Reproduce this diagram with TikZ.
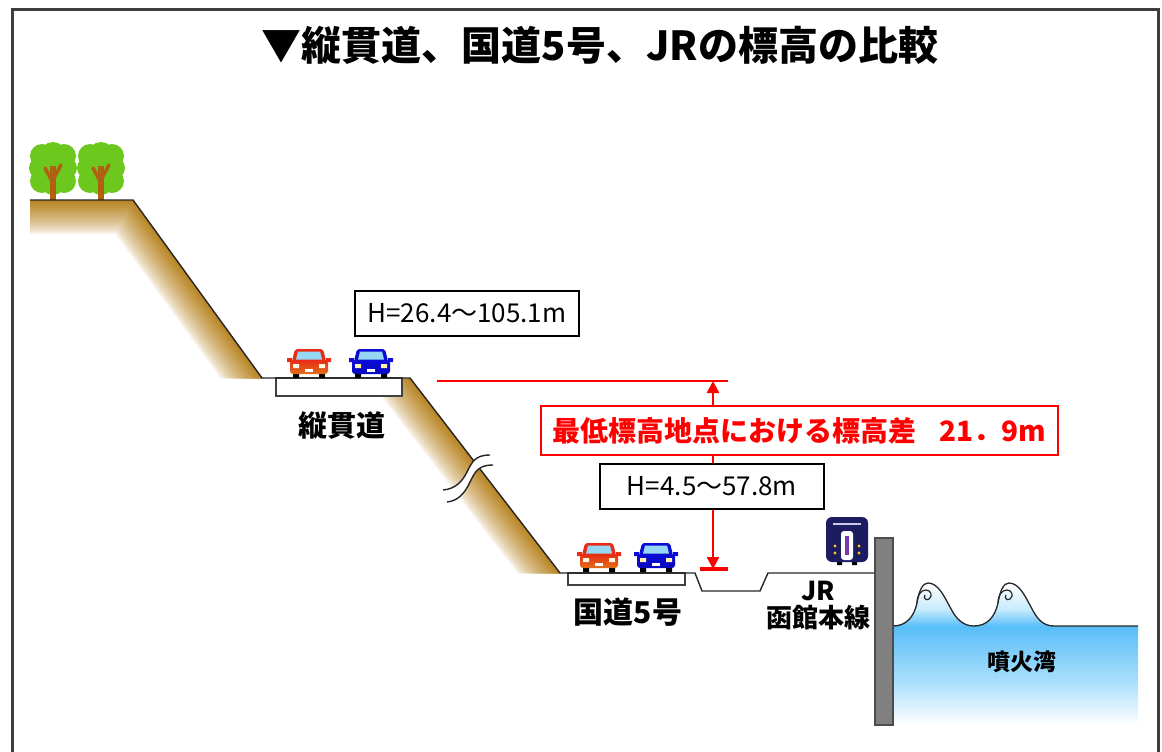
\documentclass[tikz,border=0pt]{standalone}
\usepackage{fontspec}
\setmainfont{Noto Sans CJK JP}
\usetikzlibrary{arrows.meta}

\definecolor{framegray}{RGB}{62,62,62}
\definecolor{earth}{RGB}{184,132,34}
\definecolor{leaf}{RGB}{108,200,28}
\definecolor{bark}{RGB}{176,96,16}
\definecolor{carred}{RGB}{232,44,22}
\definecolor{carorange}{RGB}{224,110,24}
\definecolor{carblue}{RGB}{12,12,215}
\definecolor{carblue2}{RGB}{8,8,190}
\definecolor{glass}{RGB}{150,215,245}
\definecolor{lampwhite}{RGB}{255,250,225}
\definecolor{lampyellow}{RGB}{255,245,170}
\definecolor{trainnavy}{RGB}{28,28,96}
\definecolor{trainpurple}{RGB}{120,60,170}
\definecolor{trainband}{RGB}{205,200,235}
\definecolor{lamp}{RGB}{250,200,20}
\definecolor{wallgray}{RGB}{128,128,128}
\definecolor{seablue}{RGB}{88,190,248}
\definecolor{seamid}{RGB}{175,225,252}
\definecolor{seapale}{RGB}{200,235,253}
\definecolor{dimred}{RGB}{255,0,0}

% sea body: pale wave crests, strong blue at the waterline, fading out at the bottom
\pgfdeclareverticalshading{seashade}{100bp}{color(0bp)=(white); color(26bp)=(white); color(40bp)=(seamid); color(60bp)=(seablue); color(66bp)=(seapale); color(75bp)=(white); color(100bp)=(white)}

\tikzset{
  groundline/.style={draw=black!85, line width=1.4},
  roadbox/.style={draw=black!75, line width=1.5, fill=white},
  dimline/.style={draw=dimred, line width=2.5},
  hbox/.style={draw=black, line width=2.5, fill=white, minimum width=224, minimum height=45, inner sep=0, font=\fontsize{26}{28}\selectfont},
  redbox/.style={draw=dimred, line width=2.5, fill=white, minimum width=517, minimum height=49, inner sep=0, text=dimred, font=\fontsize{28}{30}\selectfont\bfseries},
  lbl/.style={inner sep=0, align=center},
  pics/tree/.style={code={
    \fill[leaf] (0,-45) circle (13) (-11,-44) circle (12) (11,-44) circle (12)
                (-13,-32) circle (11) (13,-32) circle (11)
                (-11,-19) circle (12) (11,-19) circle (12) (0,-17) circle (12) (0,-31) circle (14);
    \draw[bark, line width=6] (0,0) -- (0,-34);
    \draw[bark, line width=3.5, line cap=round] (0,-17) -- (-8,-32) (0,-20) -- (8,-35);
  }},
  pics/car/.style n args={3}{code={
    \fill[black] (-16,-7) rectangle (-10,0) (10,-7) rectangle (16,0);
    \fill[#1] (-22,-20) rectangle (-17,-16) (17,-20) rectangle (22,-16);
    \fill[#1, rounded corners=2] (-14,-29) -- (14,-29) -- (17,-17) -- (-17,-17) -- cycle;
    \shade[top color=#1, bottom color=#2, rounded corners=3] (-19,-18) rectangle (19,-4);
    \fill[glass] (-11,-26.5) -- (11,-26.5) -- (13,-18.5) -- (-13,-18.5) -- cycle;
    \fill[#3] (-16,-14) rectangle (-10,-10) (10,-14) rectangle (16,-10);
    \fill[white] (-4,-9) rectangle (4,-6);
  }},
  pics/train/.style={code={
    \fill[black] (-10,-5) rectangle (-5,0) (5,-5) rectangle (10,0);
    \fill[trainnavy, rounded corners=6] (-21,-48) rectangle (21,-3);
    \draw[trainband, line width=2] (-14,-41) -- (14,-41);
    \fill[white, rounded corners=3] (-6,-34) rectangle (6,-5);
    \fill[trainpurple] (-1.6,-29) rectangle (1.6,-10);
    \fill[lamp] (-12,-19) circle (1.6) (-12,-12) circle (1.6) (12,-19) circle (1.6) (12,-12) circle (1.6);
  }}
}

\begin{document}
\begin{tikzpicture}[x=1pt, y=-1pt]
\useasboundingbox (0,0) rectangle (1162,752);

% frame open at the bottom
\draw[framegray, line width=3] (12.5,752) -- (12.5,9.5) -- (1158.5,9.5) -- (1158.5,752);

\node[lbl, font=\fontsize{40}{44}\selectfont\bfseries] (title) at (600,45) {▼縦貫道、国道5号、JRの標高の比較};

% earth band along the upper slope
\begin{scope}
  \clip (30,200) -- (133,200) -- (262,378) -- (30,378) -- cycle;
  \foreach \i in {0,...,34}{
    \pgfmathsetmacro\w{70-2*\i}
    \pgfmathtruncatemacro\p{100*(\i/34)^0.7}
    \draw[line width=\w pt, color=earth!\p!white, line join=round] (0,200) -- (133,200) -- (290,416);
  }
\end{scope}

% earth band along the lower slope
\begin{scope}
  \clip (410,378) -- (560,573) -- (380,573) -- (380,378) -- cycle;
  \foreach \i in {0,...,34}{
    \pgfmathsetmacro\w{70-2*\i}
    \pgfmathtruncatemacro\p{100*(\i/34)^0.7}
    \draw[line width=\w pt, color=earth!\p!white] (398,362) -- (575,592);
  }
\end{scope}

% trees on the hilltop
\pic at (53,200) {tree};
\pic at (101,200) {tree};

% road decks
\draw[roadbox] (276,378) rectangle (402,396);
\draw[roadbox] (568,573) rectangle (685,585);

% ground profile
\draw[groundline] (30,200) -- (133,200) -- (262,378) -- (410,378) -- (560,573)
  -- (695,573) -- (702,591) -- (760,591) -- (768,573) -- (875,573);

% break mark on the lower slope
\fill[white] (490,455) .. controls (475,455) and (472,462) .. (467,472)
  .. controls (462,482) and (455,489) .. (443,490) -- (447,502)
  .. controls (458,501) and (465,493) .. (470,482)
  .. controls (475,472) and (478,465) .. (493,465) -- cycle;
\draw[black!85, line width=1.4] (490,455) .. controls (475,455) and (472,462) .. (467,472)
  .. controls (462,482) and (455,489) .. (443,490);
\draw[black!85, line width=1.4] (493,465) .. controls (478,465) and (475,472) .. (470,482)
  .. controls (465,493) and (458,501) .. (447,502);

% cars
\pic at (309,378) {car={carred}{carorange}{lampwhite}};
\pic at (371,378) {car={carblue}{carblue2}{lampyellow}};
\pic at (599,572) {car={carred}{carorange}{lampwhite}};
\pic at (656,572) {car={carblue}{carblue2}{lampyellow}};

% train
\pic at (847,565) {train};

% sea with breaking waves
\shade[shading=seashade] (893,626) .. controls (906,626) and (914,617) .. (917,603)
  .. controls (919,590) and (923,583) .. (928,583)
  .. controls (938,583) and (944,596) .. (950,607)
  .. controls (956,619) and (963,626) .. (974,626)
  .. controls (987,626) and (995,617) .. (998,603)
  .. controls (1000,590) and (1004,583) .. (1009,583)
  .. controls (1019,583) and (1025,596) .. (1031,607)
  .. controls (1037,619) and (1043,626) .. (1054,626)
  -- (1138,626) -- (1138,728) -- (893,728) -- cycle;
\draw[black!85, line width=1.3] (893,626) .. controls (906,626) and (914,617) .. (917,603)
  .. controls (919,590) and (923,583) .. (928,583)
  .. controls (938,583) and (944,596) .. (950,607)
  .. controls (956,619) and (963,626) .. (974,626)
  .. controls (987,626) and (995,617) .. (998,603)
  .. controls (1000,590) and (1004,583) .. (1009,583)
  .. controls (1019,583) and (1025,596) .. (1031,607)
  .. controls (1037,619) and (1043,626) .. (1054,626)
  -- (1138,626);
\draw[black!85, line width=1.2] (917,603) .. controls (917,595) and (921,590) .. (926,590)
  .. controls (931,590) and (933,596) .. (929,599) .. controls (926,601) and (923,598) .. (925,595);
\draw[black!85, line width=1.2] (998,603) .. controls (998,595) and (1002,590) .. (1007,590)
  .. controls (1012,590) and (1014,596) .. (1010,599) .. controls (1007,601) and (1004,598) .. (1006,595);

% sea wall
\draw[fill=wallgray, draw=black!70, line width=1.2] (875,538) rectangle (893,725);

% elevation difference
\coordinate (reftopL) at (437,381);
\coordinate (reftopR) at (728,381);
\coordinate (refbotL) at (700,569);
\coordinate (refbotR) at (728,569);
\coordinate (dimtop) at (713,381);
\coordinate (dimbot) at (713,569);
\draw[dimline] (reftopL) -- (reftopR);
\draw[dimline, line width=4] (refbotL) -- (refbotR);
\draw[dimline, {Triangle[length=12pt,width=12pt]}-{Triangle[length=12pt,width=12pt]}] (dimtop) -- (dimbot);

\node[redbox] (diff) at (799.5,430.5) {最低標高地点における標高差\hspace{0.8em}21．9m};
\node[hbox] (hlow) at (712,486.5) {H=4.5～57.8m};
\node[hbox] (hhigh) at (467,313.5) {H=26.4～105.1m};

% place labels
\node[lbl, font=\fontsize{29}{32}\selectfont\bfseries] (jukan) at (342,426) {縦貫道};
\node[lbl, font=\fontsize{30}{32}\selectfont\bfseries] (kokudo) at (628,612) {国道5号};
\node[lbl, font=\fontsize{26}{27}\selectfont\bfseries] (jr) at (818,606) {JR\\函館本線};
\node[lbl, font=\fontsize{23}{25}\selectfont\bfseries] (bay) at (1022,662) {噴火湾};
\end{tikzpicture}
\end{document}
